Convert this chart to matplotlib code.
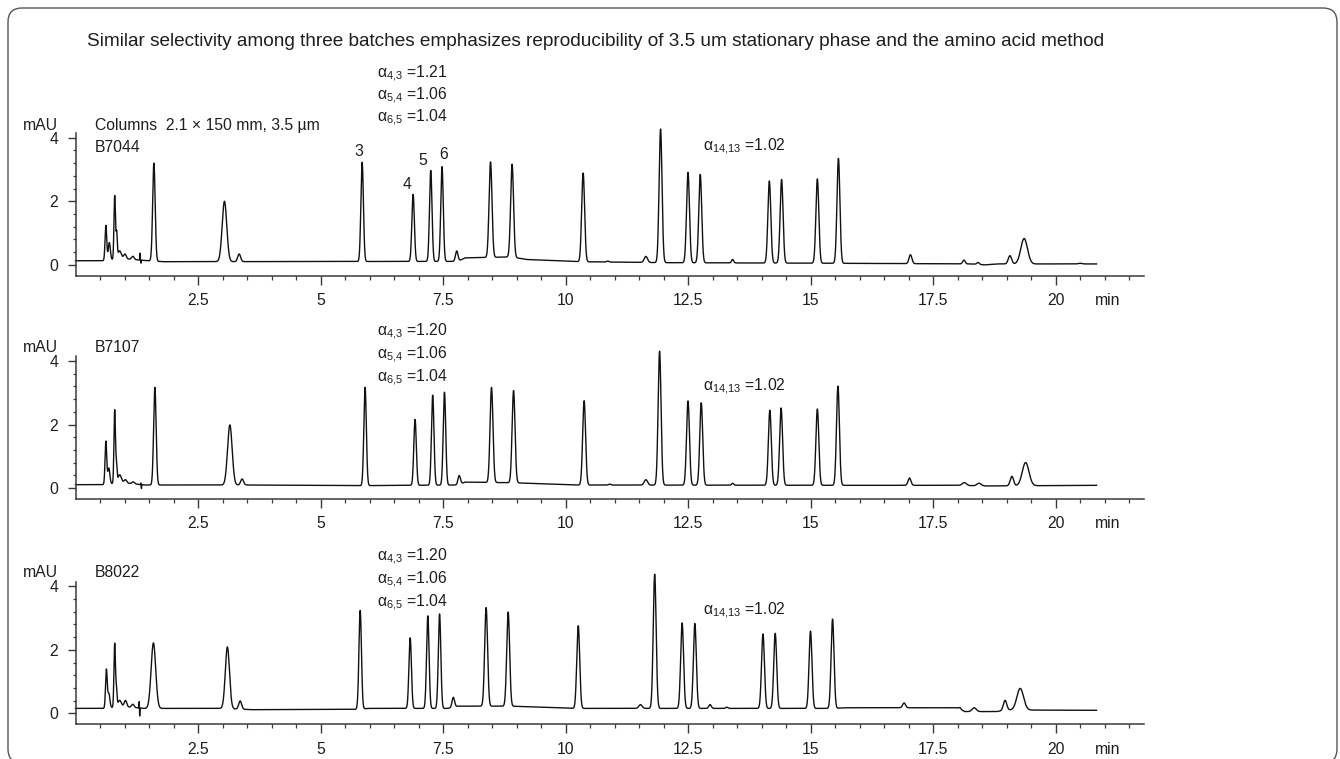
import numpy as np
import matplotlib
matplotlib.use("Agg")
import matplotlib.pyplot as plt
from matplotlib.patches import FancyBboxPatch
from matplotlib.transforms import IdentityTransform
from matplotlib.ticker import FixedLocator

# ---------------- data ----------------
title = ("Similar selectivity among three batches emphasizes reproducibility "
         "of 3.5 um stationary phase and the amino acid method")
column_text = "Columns  2.1 \u00d7 150 mm, 3.5 \u00b5m"
batches = ["B7044", "B7107", "B8022"]
alpha_43 = ["1.21", "1.20", "1.20"]
alpha_54 = ["1.06", "1.06", "1.06"]
alpha_65 = ["1.04", "1.04", "1.04"]
alpha_1413 = ["1.02", "1.02", "1.02"]
peak_numbers = ["3", "4", "5", "6"]

x_ticks = [2.5, 5, 7.5, 10, 12.5, 15, 17.5, 20]
x_tick_labels = ["2.5", "5", "7.5", "10", "12.5", "15", "17.5", "20"]
x_minor = [0.5 * i for i in range(1, 44)]
y_ticks = [0, 2, 4]
y_tick_labels = ["0", "2", "4"]
y_minor = [0.4, 0.8, 1.2, 1.6, 2.4, 2.8, 3.2, 3.6]
run_end = 20.84

# peak tables: retention time (min), height above baseline (mAU), FWHM (min)
b7044_rt = [0.62, 0.69, 0.80, 0.84, 0.90, 1.01, 1.17, 1.32, 1.335, 1.60, 3.04, 3.34,
            5.85, 6.89, 7.25, 7.48, 7.78, 8.47, 8.91, 10.36, 10.86, 11.64, 11.94,
            12.50, 12.75, 13.41, 14.16, 14.41, 15.14, 15.57, 17.04, 18.13, 18.42,
            19.07, 19.36, 20.50]
b7044_h = [1.10, 0.55, 2.00, 0.80, 0.25, 0.15, 0.10, 0.22, -0.10, 3.08, 1.90, 0.24,
           3.12, 2.11, 2.86, 2.98, 0.33, 3.00, 2.92, 2.79, 0.03, 0.19, 4.20,
           2.84, 2.78, 0.11, 2.58, 2.63, 2.65, 3.30, 0.28, 0.12, 0.06,
           0.26, 0.80, 0.02]
b7044_w = [0.04, 0.05, 0.035, 0.03, 0.08, 0.06, 0.06, 0.006, 0.006, 0.06, 0.11, 0.07,
           0.06, 0.06, 0.06, 0.06, 0.06, 0.07, 0.07, 0.07, 0.05, 0.08, 0.07,
           0.07, 0.07, 0.05, 0.07, 0.07, 0.07, 0.07, 0.07, 0.06, 0.06,
           0.08, 0.16, 0.08]
b7044_base_t = [0, 0.55, 0.95, 1.4, 1.8, 7.8, 7.95, 8.9, 9.2, 10.3, 12.0, 15.6, 18.3, 18.55, 18.8, 20.84]
b7044_base_y = [0.13, 0.13, 0.20, 0.14, 0.10, 0.11, 0.22, 0.25, 0.17, 0.10, 0.07, 0.05, 0.03, 0.00, 0.03, 0.03]

b7107_rt = [0.62, 0.68, 0.80, 0.835, 0.90, 1.02, 1.18, 1.335, 1.345, 1.62, 3.15, 3.40,
            5.91, 6.93, 7.29, 7.53, 7.83, 8.49, 8.94, 10.38, 10.90, 11.64, 11.92,
            12.50, 12.77, 13.41, 14.17, 14.40, 15.14, 15.56, 17.02, 18.14, 18.44,
            19.11, 19.39]
b7107_h = [1.35, 0.50, 2.30, 0.55, 0.25, 0.10, 0.06, 0.05, -0.13, 3.07, 1.89, 0.19,
           3.09, 2.07, 2.83, 2.92, 0.28, 2.99, 2.90, 2.65, 0.03, 0.17, 4.21,
           2.65, 2.59, 0.06, 2.36, 2.43, 2.40, 3.12, 0.23, 0.09, 0.08,
           0.30, 0.73]
b7107_w = [0.04, 0.05, 0.035, 0.03, 0.08, 0.06, 0.06, 0.006, 0.006, 0.06, 0.11, 0.07,
           0.06, 0.06, 0.06, 0.06, 0.06, 0.07, 0.07, 0.07, 0.05, 0.08, 0.07,
           0.07, 0.07, 0.05, 0.07, 0.07, 0.07, 0.07, 0.07, 0.10, 0.10,
           0.08, 0.16]
b7107_base_t = [0, 0.55, 0.95, 1.4, 3.5, 5.8, 7.8, 7.95, 8.95, 10.2, 15.6, 18.0, 18.6, 20.84]
b7107_base_y = [0.11, 0.11, 0.18, 0.10, 0.10, 0.08, 0.10, 0.19, 0.17, 0.10, 0.09, 0.09, 0.07, 0.09]

b8022_rt = [0.63, 0.68, 0.80, 0.835, 0.90, 1.02, 1.17, 1.30, 1.31, 1.59, 3.10, 3.36,
            5.81, 6.83, 7.19, 7.43, 7.71, 8.38, 8.83, 10.26, 11.53, 11.82,
            12.38, 12.64, 12.95, 13.29, 14.03, 14.28, 15.00, 15.45, 16.91, 18.05,
            18.34, 18.97, 19.28]
b8022_h = [1.20, 0.45, 2.00, 0.55, 0.20, 0.20, 0.10, 0.20, -0.25, 2.06, 1.94, 0.26,
           3.10, 2.22, 2.91, 2.97, 0.31, 3.10, 2.96, 2.60, 0.12, 4.22,
           2.69, 2.67, 0.12, 0.04, 2.34, 2.36, 2.43, 2.81, 0.15, 0.05,
           0.12, 0.31, 0.68]
b8022_w = [0.04, 0.05, 0.035, 0.03, 0.08, 0.06, 0.06, 0.006, 0.006, 0.11, 0.10, 0.07,
           0.06, 0.06, 0.06, 0.06, 0.06, 0.07, 0.07, 0.07, 0.08, 0.07,
           0.07, 0.07, 0.06, 0.05, 0.07, 0.07, 0.07, 0.07, 0.07, 0.04,
           0.10, 0.08, 0.16]
b8022_base_t = [0, 0.55, 0.95, 1.4, 3.0, 3.6, 5.7, 6.0, 7.6, 7.8, 8.9, 10.2, 15.5, 15.7, 18.0, 18.15, 18.8, 19.0, 20.84]
b8022_base_y = [0.16, 0.16, 0.22, 0.16, 0.16, 0.12, 0.13, 0.16, 0.16, 0.23, 0.23, 0.16, 0.16, 0.18, 0.18, 0.06, 0.06, 0.11, 0.10]

tables = [
    (b7044_rt, b7044_h, b7044_w, b7044_base_t, b7044_base_y),
    (b7107_rt, b7107_h, b7107_w, b7107_base_t, b7107_base_y),
    (b8022_rt, b8022_h, b8022_w, b8022_base_t, b8022_base_y),
]

# ---------------- style ----------------
W, H = 1340, 759
FONT = "Liberation Sans"
plt.rcParams["font.family"] = [FONT, "DejaVu Sans"]
plt.rcParams["mathtext.fontset"] = "custom"
plt.rcParams["mathtext.rm"] = FONT
plt.rcParams["mathtext.it"] = FONT
plt.rcParams["mathtext.sf"] = FONT
TXT = "#1e1e1e"
AXC = "#3a3a3a"
FS = 11.3

fig = plt.figure(figsize=(W / 100, H / 100), dpi=100)
fig.patch.set_facecolor("white")


def fx(px):
    return px / W


def fy(py):
    return 1 - py / H


def ftext(px, py_center, s, ha="left", size=FS):
    # py_center: vertical centre of cap height in image pixels
    return fig.text(fx(px), fy(py_center + 5.6), s, ha=ha, va="baseline",
                    fontsize=size, color=TXT)


def alpha_label(sub, val):
    return r"$\mathregular{\alpha_{" + sub + r"}}$ =" + val


# rounded frame
frame = FancyBboxPatch((8, -4), 1329, 755, boxstyle="round,pad=0,rounding_size=14",
                       transform=IdentityTransform(), fill=False,
                       edgecolor="#555555", linewidth=1.0)
fig.patches.append(frame)

# title, fitted to its width in the reference
t = fig.text(fx(87), fy(40 + 5.6), title, ha="left", va="baseline",
             fontsize=13.4, color=TXT)
fig.canvas.draw()
r = fig.canvas.get_renderer()
wid = t.get_window_extent(r).width
t.set_fontsize(13.4 * 1020.0 / wid)

PXMIN = 49.0
PXUNIT = 31.8
YLO, YHI = -0.34, 4.65
XMAX = 21.8
bottoms = [275.7, 499.0, 724.3]
ax_h = (YHI - YLO) * PXUNIT

tgrid = np.arange(0.0, run_end, 0.002)

for i, (rt, hh, ww, bt, by) in enumerate(tables):
    ax = fig.add_axes([fx(75.5), 1 - bottoms[i] / H, XMAX * PXMIN / W, ax_h / H])
    sig = np.asarray(np.interp(tgrid, bt, by))
    for c, h, w in zip(rt, hh, ww):
        sig = sig + h * np.exp(-4 * np.log(2) * (tgrid - c) ** 2 / w ** 2)
    ax.plot(tgrid, sig, color="#111111", lw=1.0, clip_on=False)
    ax.set_xlim(0, XMAX)
    ax.set_ylim(YLO, YHI)
    for s in ("top", "right"):
        ax.spines[s].set_visible(False)
    for s in ("left", "bottom"):
        ax.spines[s].set_color(AXC)
        ax.spines[s].set_linewidth(1.1)
    ax.spines["left"].set_bounds(YLO, 4.15)
    ax.xaxis.set_major_locator(FixedLocator(x_ticks))
    ax.set_xticklabels(x_tick_labels)
    ax.xaxis.set_minor_locator(FixedLocator(x_minor))
    ax.yaxis.set_major_locator(FixedLocator(y_ticks))
    ax.set_yticklabels(y_tick_labels)
    ax.yaxis.set_minor_locator(FixedLocator(y_minor))
    ax.tick_params(axis="x", which="major", length=6.5, width=1.0, pad=6.0,
                   color=AXC, labelcolor=TXT, labelsize=FS)
    ax.tick_params(axis="x", which="minor", length=3.0, width=0.9, color=AXC)
    ax.tick_params(axis="y", which="major", length=5.8, width=1.0, pad=6.8,
                   color=AXC, labelcolor=TXT, labelsize=FS)
    ax.tick_params(axis="y", which="minor", length=2.4, width=0.9, color=AXC)
    ax.patch.set_visible(False)
    ax.annotate("min", xy=(21.07, 0), xycoords=("data", "axes fraction"),
                xytext=(0, -12.5), textcoords="offset points", ha="center",
                va="top", fontsize=FS, color=TXT)

    # mAU label and batch
    ftext(58, [124, 346.7, 571.7][i], "mAU", ha="right")
    ftext(95, [146.5, 346.7, 571.7][i], batches[i])
    # selectivity labels
    ys = [[72, 94, 116], [330, 353, 376], [555, 578, 601]][i]
    ftext(377, ys[0], alpha_label("4{,}3", alpha_43[i]))
    ftext(377, ys[1], alpha_label("5{,}4", alpha_54[i]))
    ftext(377, ys[2], alpha_label("6{,}5", alpha_65[i]))
    ftext(703, [145, 385, 609][i], alpha_label("14{,}13", alpha_1413[i]))

# column description and peak numbers on the first panel
ftext(95, 124, column_text)
for s, (px, py) in zip(peak_numbers, [(359, 150), (407, 183), (423, 159), (444, 153)]):
    ftext(px, py, s, ha="center")

fig.savefig("out.png", dpi=100, facecolor="white")
